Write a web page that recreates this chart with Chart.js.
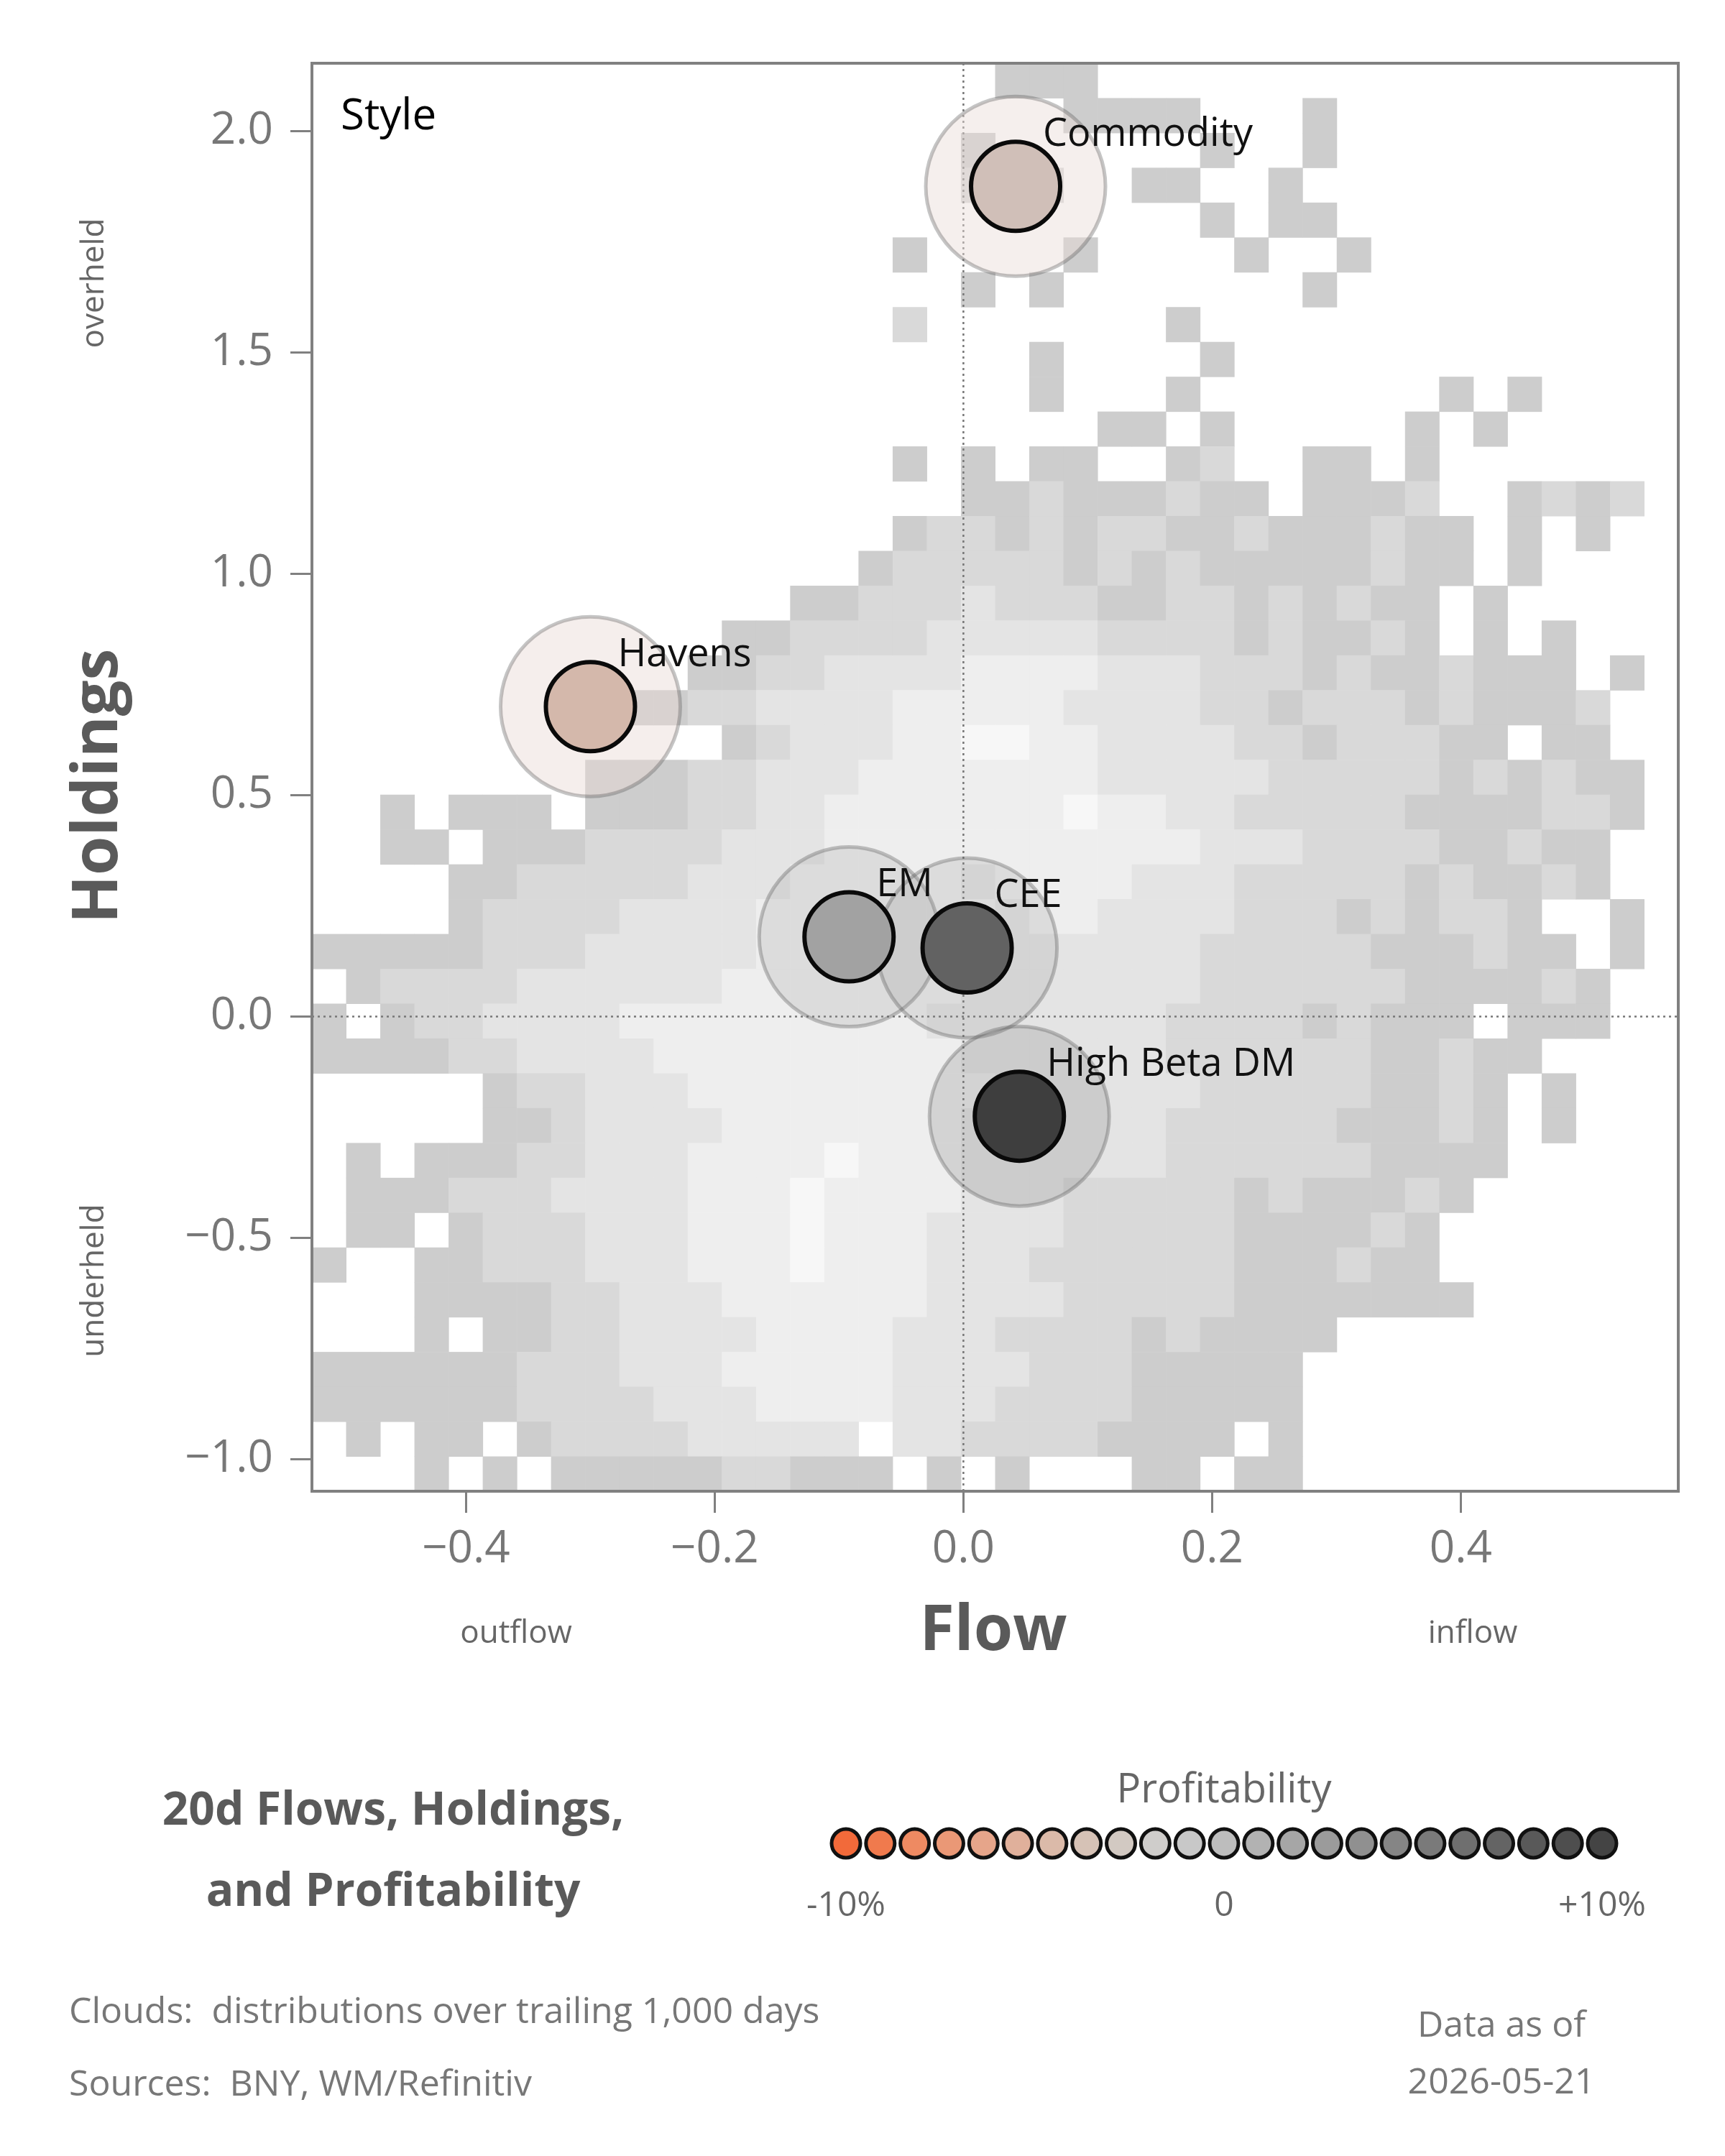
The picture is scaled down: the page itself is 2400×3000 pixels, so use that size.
<!DOCTYPE html>
<html><head><meta charset="utf-8">
<script src="https://cdn.jsdelivr.net/npm/chart.js@4"></script>
<style>body{margin:0;background:#fff}canvas{display:block}</style>
</head><body>
<canvas id="c" width="2400" height="3000" style="width:2400px;height:3000px"></canvas>
<script>
const names = ["Commodity","Havens","EM","CEE","High Beta DM"];
const flows = [0.042,-0.300,-0.092,0.003,0.045];
const holdings = [1.875,0.700,0.180,0.155,-0.225];
const fills = ["#d0bfb8","#d4b8ab","#a2a2a2","#626262","#3e3e3e"];
const haloFills = ["rgba(232,220,215,0.45)","rgba(232,218,212,0.45)","rgba(140,140,140,0.18)","rgba(140,140,140,0.18)","rgba(120,120,120,0.22)"];
const xTicks = [-0.4,-0.2,0.0,0.2,0.4];
const yTicks = [-1.0,-0.5,0.0,0.5,1.0,1.5,2.0];
const legendColors = ["#f26a3a","#f07a4d","#ee8a62","#ea9876","#e6a58a","#e0b09b","#dbbaa9","#d6c2b6","#d2c9c2","#cfcdcb","#c8c8c8","#bdbdbd","#b2b2b2","#a6a6a6","#9b9b9b","#909090","#858585","#7a7a7a","#6f6f6f","#646464","#595959","#4e4e4e","#444444"];
const legendLabels = ["-10%","0","+10%"];
// cloud density grid: rows top (y=2.153) to bottom (y=-1.072), 40 cols from x=-0.524 to 0.575; '.'=empty, 1 dark .. 5 light
const cloudRows = [
"....................111................",
"......................1111...1.........",
"...................1......1..1.........",
"...................222..11..1..........",
"..........................1.11.........",
".................1....1....1..1........",
"...................1.1.......1.........",
".................2.......1.............",
".....................1....1............",
".....................1...1.......1.1...",
".......................11.1.....1.1....",
".................1.1.11..12..11.1......",
"...................112111211.1112..1212",
".................12212122112111211.1.1.",
"................122222121211111211.1...",
"..............1122232221122121211.1....",
"............112222333332222121121.1.1..",
"...........11223333444433322212112111.1",
".........11223333444443333221222121112.",
"............12333445544333322122211.11.",
"........1112233344444443333322222121211.",
"..1.111.1112233444444454433222221111221",
"..11.111222233344444444444333222211211.",
"....1122222333444443444433322222121121.",
"....12222333344444443443333222121221..1",
"1111122233333444444333333322222111211.1",
".1222233333344444443333333222222111121.",
"1.12233334444444443333333222212111.111.",
"111122333344444444433333322222211211...",
".....122333444444444333333222221121.1..",
".....112333344444443333332222211121.1..",
".1.11122333444454443333332222221111....",
".111222333344454444333222221211121.....",
".11.12223334445444333322222111121......",
"1..112223334445444333222222111211......",
"...1111223334444443333222221111111.....",
"...1.1122333344443332222121111.........",
"11111122233344444333322211111..........",
"11111122223334444333222211111..........",
".1.11.1222233333.3322221111.1..........",
"...1.1.1111122111.1.1...11.11.........."
];
const levelColors = ["#cdcdcd","#d9d9d9","#e4e4e4","#eeeeee","#f7f7f7"];

const X0=-0.524, X1=0.575, Y0=-1.072, Y1=2.153;
const FONT = "'Open Sans', Lato, sans-serif";

// stop the bubble controller from reserving extra layout padding for bubble radius
Chart.registry.getController('bubble').prototype.getMaxOverflow = function(){ return false; };

const cloudPlugin = {
  id:'cloud',
  beforeDatasetsDraw(chart){
    const {ctx, scales:{x,y}} = chart;
    const nc=40, nr=cloudRows.length, cw=(X1-X0)/nc, rh=(Y1-Y0)/nr;
    ctx.save();
    for(let r=0;r<nr;r++){
      const row=cloudRows[r];
      for(let c=0;c<nc;c++){
        const ch=row[c];
        if(!ch||ch==='.') continue;
        const px0=x.getPixelForValue(X0+c*cw), px1=x.getPixelForValue(X0+(c+1)*cw);
        const py0=y.getPixelForValue(Y1-r*rh), py1=y.getPixelForValue(Y1-(r+1)*rh);
        ctx.fillStyle=levelColors[+ch-1];
        ctx.fillRect(px0,py0,px1-px0+0.5,py1-py0+0.5);
      }
    }
    ctx.strokeStyle='#777'; ctx.lineWidth=2.5; ctx.setLineDash([3,5]);
    const zx=x.getPixelForValue(0), zy=y.getPixelForValue(0), ca=chart.chartArea;
    ctx.beginPath(); ctx.moveTo(zx,ca.top); ctx.lineTo(zx,ca.bottom); ctx.stroke();
    ctx.beginPath(); ctx.moveTo(ca.left,zy); ctx.lineTo(ca.right,zy); ctx.stroke();
    ctx.restore();
  },
  afterDraw(chart){
    const {ctx, scales:{x,y}, chartArea:ca} = chart;
    ctx.save();
    ctx.strokeStyle='#808080'; ctx.lineWidth=4; ctx.setLineDash([]);
    ctx.strokeRect(ca.left,ca.top,ca.right-ca.left,ca.bottom-ca.top);
    ctx.fillStyle='#111'; ctx.font=`54px ${FONT}`; ctx.textAlign='left'; ctx.textBaseline='middle';
    names.forEach((n,i)=>{ ctx.fillText(n, x.getPixelForValue(flows[i])+38, y.getPixelForValue(holdings[i])-72); });
    ctx.font=`60px ${FONT}`; ctx.fillStyle='#000'; ctx.fillText('Style', ca.left+40, 163);
    ctx.fillStyle='#5a5a5a'; ctx.font=`bold 88px ${FONT}`; ctx.textAlign='center';
    ctx.fillText('Flow', 1382, 2271);
    ctx.save(); ctx.translate(138,1094); ctx.rotate(-Math.PI/2); ctx.fillText('Holdings',0,0); ctx.restore();
    ctx.fillStyle='#666'; ctx.font=`44px ${FONT}`;
    ctx.save(); ctx.translate(131,394); ctx.rotate(-Math.PI/2); ctx.fillText('overheld',0,0); ctx.restore();
    ctx.save(); ctx.translate(131,1782); ctx.rotate(-Math.PI/2); ctx.fillText('underheld',0,0); ctx.restore();
    ctx.fillText('outflow', 718, 2273); ctx.fillText('inflow', 2049, 2273);
    ctx.fillStyle='#5a5a5a'; ctx.font=`bold 64px ${FONT}`;
    ctx.fillText('20d Flows, Holdings,', 547, 2521); ctx.fillText('and Profitability', 547, 2634);
    ctx.fillStyle='#666'; ctx.font=`56px ${FONT}`; ctx.fillText('Profitability', 1703, 2492);
    const lx0=1177, lx1=2229, n=legendColors.length;
    legendColors.forEach((c,i)=>{
      ctx.beginPath(); ctx.arc(lx0+(lx1-lx0)*i/(n-1), 2565, 20, 0, Math.PI*2);
      ctx.fillStyle=c; ctx.fill(); ctx.lineWidth=5; ctx.strokeStyle='#111'; ctx.stroke();
    });
    ctx.fillStyle='#666'; ctx.font=`48px ${FONT}`;
    ctx.fillText(legendLabels[0], lx0, 2652); ctx.fillText(legendLabels[1], (lx0+lx1)/2, 2652); ctx.fillText(legendLabels[2], lx1, 2652);
    ctx.fillStyle='#777'; ctx.font=`50px ${FONT}`;
    ctx.fillText('Data as of', 2089, 2820); ctx.fillText('2026-05-21', 2089, 2899);
    ctx.textAlign='left';
    ctx.fillText('Clouds:  distributions over trailing 1,000 days', 96, 2801);
    ctx.fillText('Sources:  BNY, WM/Refinitiv', 96, 2902);
    ctx.restore();
  }
};

const pts = names.map((n,i)=>({x:flows[i], y:holdings[i]}));
new Chart(document.getElementById('c'), {
  type:'bubble',
  data:{datasets:[
    {data:pts.map(p=>({...p, r:62})), backgroundColor:fills, borderColor:'#0a0a0a', borderWidth:6},
    {data:pts.map(p=>({...p, r:125})), backgroundColor:haloFills, borderColor:'rgba(90,90,90,0.35)', borderWidth:5}
  ]},
  options:{
    responsive:false, devicePixelRatio:1, animation:false,
    layout:{padding:{left:0, top:88, right:65, bottom:0}},
    plugins:{legend:{display:false}, tooltip:{enabled:false}},
    scales:{
      x:{type:'linear', min:X0, max:X1,
        afterBuildTicks:s=>{s.ticks=xTicks.map(v=>({value:v}));},
        afterFit:s=>{s.height=925;},
        grid:{drawOnChartArea:false, drawTicks:true, tickLength:30, color:'#808080', lineWidth:3},
        border:{display:false},
        ticks:{padding:14, color:'#777', font:{family:FONT,size:62}, maxRotation:0,
          callback:v=>(v<0?'\u2212':'')+Math.abs(v).toFixed(1)}},
      y:{type:'linear', min:Y0, max:Y1,
        afterBuildTicks:s=>{s.ticks=yTicks.map(v=>({value:v}));},
        afterFit:s=>{s.width=434;},
        grid:{drawOnChartArea:false, drawTicks:true, tickLength:30, color:'#808080', lineWidth:3},
        border:{display:false},
        ticks:{padding:24, color:'#777', font:{family:FONT,size:62},
          callback:v=>(v<0?'\u2212':'')+Math.abs(v).toFixed(1)}}
    }
  },
  plugins:[cloudPlugin]
});
</script>
</body></html>
